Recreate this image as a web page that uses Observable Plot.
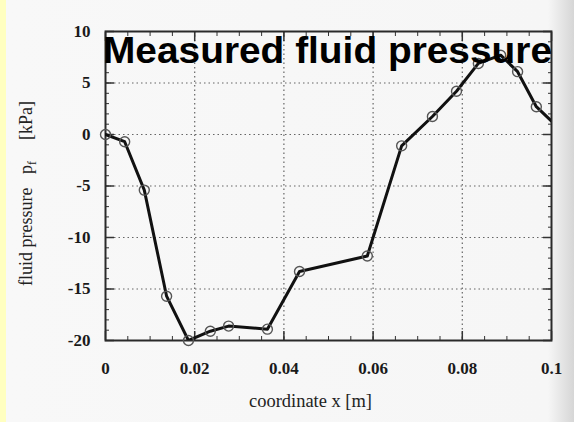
<!DOCTYPE html>
<html>
<head>
<meta charset="utf-8">
<script src="https://cdn.jsdelivr.net/npm/d3@7"></script>
<script src="https://cdn.jsdelivr.net/npm/@observablehq/plot@0.6"></script>
<style>
  html, body { margin: 0; padding: 0; }
  body {
    width: 574px; height: 422px; overflow: hidden;
    background: linear-gradient(to right, #ffffc0 0px, #ffffc0 6px, #f8f8f8 6px, #f6f6f6 548px, #d6d6d6 574px);
  }
  #chart { position: relative; width: 574px; height: 422px; }
  #chart svg { background: transparent !important; }
</style>
</head>
<body>
<div id="chart"></div>
<script>
// Data
const xPos = [0, 0.0043, 0.0087, 0.0137, 0.0186, 0.0235, 0.0276, 0.0363, 0.0435, 0.0587, 0.0664, 0.0733, 0.0787, 0.0836, 0.0886, 0.0924, 0.0966, 0.1];
const pressure = [0, -0.7, -5.4, -15.7, -20, -19.1, -18.6, -18.9, -13.3, -11.8, -1.1, 1.75, 4.2, 6.9, 7.7, 6.1, 2.7, 1.3];
const xTicks = [0, 0.02, 0.04, 0.06, 0.08, 0.1];
const yTicks = [-20, -15, -10, -5, 0, 5, 10];
const xGrid = [0.02, 0.04, 0.06, 0.08];
const yGrid = [-15, -10, -5, 0, 5];
const xMinor = d3.range(0, 21).map(i => +(i * 0.005).toFixed(3));
const yMinor = d3.range(-20, 11);
const title = "Measured fluid pressure";

const data = xPos.map((x, i) => ({x, p: pressure[i]}));

const serif = "Liberation Serif, Times New Roman, serif";
const blank = () => "";

const plot = Plot.plot({
  width: 574,
  height: 422,
  marginLeft: 105,
  marginRight: 23,
  marginTop: 31,
  marginBottom: 82,
  style: {background: "transparent", fontFamily: serif, fontSize: "17px", color: "#1a1a1a"},
  x: {domain: [0, 0.1]},
  y: {domain: [-20, 10]},
  marks: [
    Plot.gridX(xGrid, {stroke: "#555", strokeOpacity: 0.9, strokeWidth: 1.2, strokeDasharray: "1.5,3"}),
    Plot.gridY(yGrid, {stroke: "#555", strokeOpacity: 0.9, strokeWidth: 1.2, strokeDasharray: "1.5,3"}),
    // minor ticks (inward)
    Plot.axisX({anchor: "bottom", ticks: xMinor, tickSize: -4, tickFormat: blank, label: null, stroke: "#333"}),
    Plot.axisX({anchor: "top", ticks: xMinor, tickSize: -4, tickFormat: blank, label: null, stroke: "#333"}),
    Plot.axisY({anchor: "left", ticks: yMinor, tickSize: -4, tickFormat: blank, label: null, stroke: "#333"}),
    Plot.axisY({anchor: "right", ticks: yMinor, tickSize: -4, tickFormat: blank, label: null, stroke: "#333"}),
    // major ticks (inward)
    Plot.axisX({anchor: "bottom", ticks: xTicks, tickSize: -9, tickFormat: blank, label: null, stroke: "#333", strokeWidth: 1.5}),
    Plot.axisX({anchor: "top", ticks: xTicks, tickSize: -9, tickFormat: blank, label: null, stroke: "#333", strokeWidth: 1.5}),
    Plot.axisY({anchor: "left", ticks: yTicks, tickSize: -9, tickFormat: blank, label: null, stroke: "#333", strokeWidth: 1.5}),
    Plot.axisY({anchor: "right", ticks: yTicks, tickSize: -9, tickFormat: blank, label: null, stroke: "#333", strokeWidth: 1.5}),
    // tick labels
    Plot.axisX({anchor: "bottom", ticks: xTicks, tickSize: 0, tickPadding: 21, label: null,
      tickFormat: d => String(+d.toFixed(2)), fontWeight: "bold", fill: "#1a1a1a"}),
    Plot.axisY({anchor: "left", ticks: yTicks, tickSize: 0, tickPadding: 15, label: null,
      tickFormat: d => String(d), fontWeight: "bold", fill: "#1a1a1a"}),
    Plot.frame({stroke: "#2a2a2a", strokeWidth: 2}),
    Plot.line(data, {x: "x", y: "p", stroke: "#111", strokeWidth: 3, strokeLinejoin: "round", clip: true}),
    Plot.dot(data, {x: "x", y: "p", filter: d => d.x < 0.1, r: 5, stroke: "#555", strokeWidth: 1.4, fill: "none"})
  ]
});

document.getElementById("chart").appendChild(plot);

const svg = d3.select(plot);
// y-axis label (rotated)
const yl = svg.append("text")
  .attr("transform", "translate(32,0) rotate(-90)")
  .attr("text-anchor", "start")
  .attr("font-family", serif)
  .attr("font-size", 18)
  .attr("fill", "#222");
yl.append("tspan").attr("x", -286).text("fluid pressure");
yl.append("tspan").attr("x", -174).text("p");
yl.append("tspan").attr("font-size", 12).attr("dy", 4).text("f");
yl.append("tspan").attr("x", -140).attr("dy", -4).text("[kPa]");

// x-axis label
svg.append("text")
  .attr("x", 249).attr("y", 407)
  .attr("text-anchor", "start")
  .attr("font-family", serif)
  .attr("font-size", 18)
  .attr("fill", "#222")
  .attr("textLength", 123)
  .attr("lengthAdjust", "spacingAndGlyphs")
  .text("coordinate x [m]");

// overlaid title
svg.append("text")
  .attr("x", 103).attr("y", 63)
  .attr("text-anchor", "start")
  .attr("font-family", "Liberation Sans, Arial, Helvetica, sans-serif")
  .attr("font-weight", "bold")
  .attr("font-size", 37)
  .attr("textLength", 449)
  .attr("lengthAdjust", "spacingAndGlyphs")
  .attr("fill", "#000")
  .text(title);
</script>
</body>
</html>
